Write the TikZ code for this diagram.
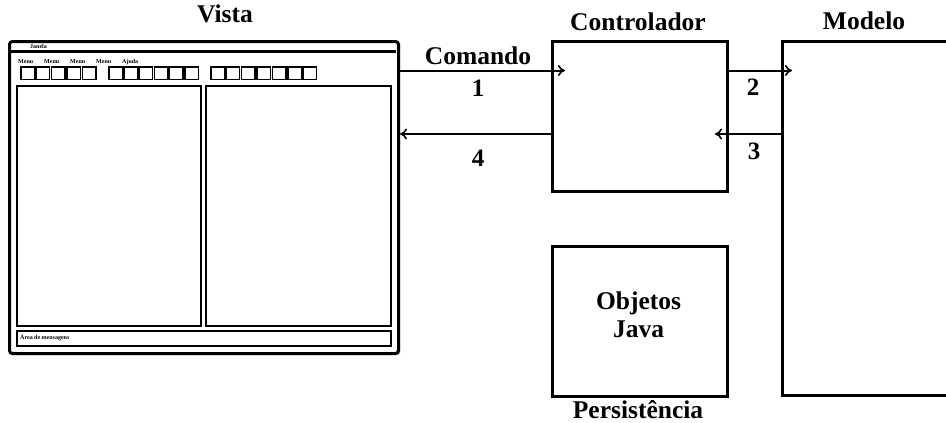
\documentclass[tikz,border=0pt]{standalone}
\usepackage{fontspec}
\setmainfont{Liberation Serif}
\usetikzlibrary{arrows.meta}
\begin{document}
\begin{tikzpicture}[x=1pt,y=-1pt,
  box/.style={draw, line width=3pt, inner sep=0pt, anchor=north west},
  pane/.style={draw, line width=2pt, inner sep=0pt, anchor=north west},
  btn/.style={draw, line width=1.5pt, minimum width=13.5pt, minimum height=12.5pt, inner sep=0pt, anchor=north west},
  title/.style={font=\bfseries\fontsize{25.5}{28}\selectfont, inner sep=0pt},
  num/.style={font=\bfseries\fontsize{25}{28}\selectfont, inner sep=0pt},
  tiny/.style={font=\bfseries\fontsize{6}{7}\selectfont, inner sep=0pt, anchor=west},
  flow/.style={line width=2pt, -{To[length=7pt,width=11pt,line width=1.6pt]}}
]
\useasboundingbox (0,0) rectangle (946,423);
\clip (0,0) rectangle (946,423);

% ---- application window (view) ----
\draw[line width=1.4pt, gray!55, rounded corners=3pt] (10,42) rectangle (399.5,354.5);
\node[box, rounded corners=3pt, minimum width=389pt, minimum height=312pt, fill=white] (win) at (8,40) {};
\draw[line width=2.2pt] (9,51.5) -- (396,51.5);
\node[tiny] (wtitle) at (30,46) {Janela};
\node[tiny] (m1) at (18,62) {Menu};
\node[tiny] (m2) at (44,62) {Menu};
\node[tiny] (m3) at (70,62) {Menu};
\node[tiny] (m4) at (96,62) {Menu};
\node[tiny] (m5) at (122,62) {Ajuda};
\foreach \i in {0,...,4} \node[btn] (ba\i) at ({20+\i*15.4},66) {};
\foreach \i in {0,...,5} \node[btn] (bb\i) at ({108+\i*15.2},66) {};
\foreach \i in {0,...,6} \node[btn] (bc\i) at ({210+\i*15.4},66) {};
\node[pane, minimum width=184pt, minimum height=240pt] (lpane) at (16,85) {};
\node[pane, minimum width=185pt, minimum height=240pt] (rpane) at (205,85) {};
\node[pane, minimum width=374pt, minimum height=15pt] (status) at (16,330) {};
\node[tiny] (stext) at (20,337.5) {Área de mensagens};

% ---- controller, model, persistence ----
\node[box, minimum width=175pt, minimum height=150pt] (ctrl) at (551,40) {};
\node[box, minimum width=175pt, minimum height=354pt] (model) at (781,40) {};
\node[box, minimum width=175pt, minimum height=150pt] (pers) at (551,245) {};
\node[title, align=center] (objs) at (638.5,315) {Objetos\\Java};

% ---- titles ----
\node[title] (tvista) at (225,14) {Vista};
\node[title] (tctrl) at (638,22) {Controlador};
\node[title] (tmodel) at (864,21) {Modelo};
\node[title] (tpers) at (638,410) {Persistência};

% ---- message arrows ----
\coordinate (a1e) at (565,70.5);
\coordinate (a3e) at (715,134);
\coordinate (a2e) at (792,70.5);
\draw[flow] (win.east |- a1e) -- (a1e);
\draw[flow] (ctrl.west |- a3e) -- (win.east |- a3e);
\draw[flow] (ctrl.east |- a2e) -- (a2e);
\draw[flow] (model.west |- a3e) -- (a3e);

\node[title] (lcmd) at (478,56) {Comando};
\node[num] (l1) at (478,88) {1};
\node[num] (l4) at (478,158) {4};
\node[num] (l2) at (753,87) {2};
\node[num] (l3) at (754,151) {3};
\end{tikzpicture}
\end{document}
